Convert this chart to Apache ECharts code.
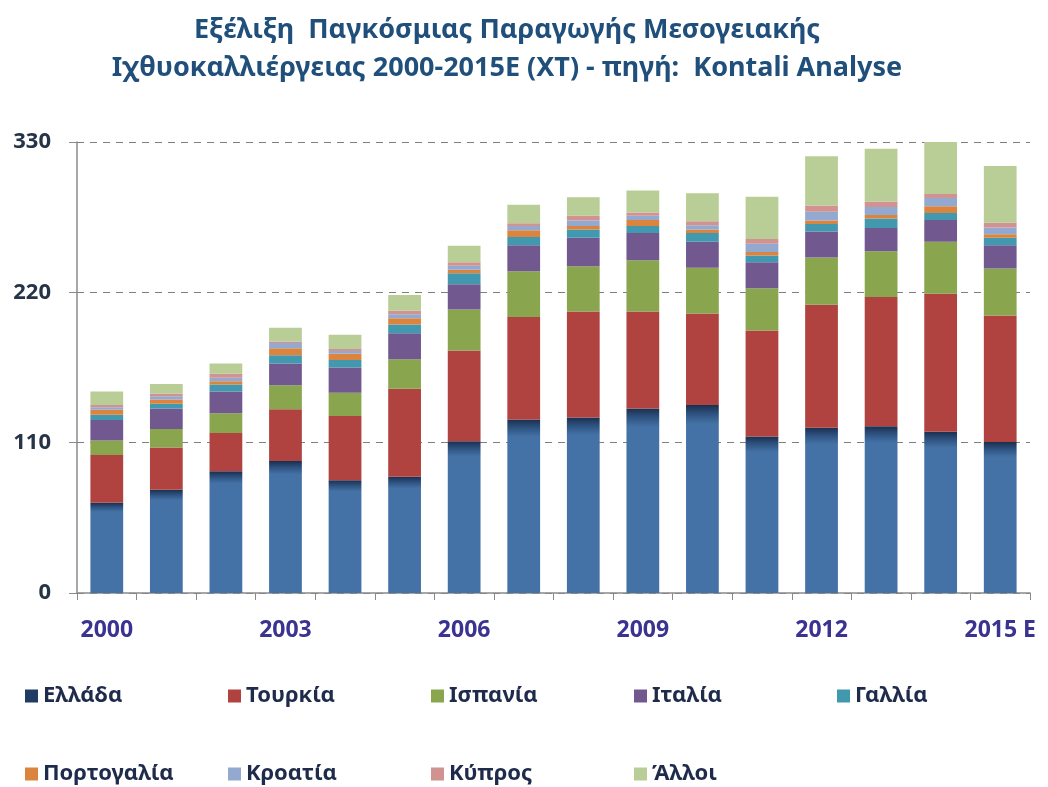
<!DOCTYPE html>
<html>
<head>
<meta charset="utf-8">
<script src="https://cdn.jsdelivr.net/npm/echarts@6/dist/echarts.min.js"></script>
<style>
  html, body { margin: 0; padding: 0; background: #fff; }
  #main { width: 1048px; height: 787px; }
</style>
</head>
<body>
<div id="main"></div>
<script>
// έτη
let years = ['2000', '2001', '2002', '2003', '2004', '2005', '2006', '2007',
  '2008', '2009', '2010', '2011', '2012', '2013', '2014', '2015 E'];
let yTicks = [0, 110, 220, 330];

// χιλ. τόνοι ανά χώρα (εκτίμηση από το γράφημα)
let ellada     = [66, 75.5, 89, 96.5, 82.5, 85, 111, 127, 128.5, 135, 137.5, 114.5, 121, 122, 118, 110.5];
let tourkia    = [35, 31, 28, 38, 47, 64.5, 66.5, 75, 77.5, 71, 67, 77.5, 90, 94.5, 101, 92.5];
let ispania    = [10.5, 13.5, 14.5, 17.5, 17, 21.5, 30, 33.5, 33, 37.5, 33.5, 31, 34.5, 33.5, 38, 34.5];
let italia     = [15, 15, 16, 16, 18.5, 19, 18.5, 19, 21, 20, 19, 19, 19, 17, 16, 17];
let gallia     = [4, 3.5, 5, 6, 5.5, 6.5, 8, 6, 6, 5, 6.5, 5, 5.5, 7, 5, 5.5];
let portogalia = [3.5, 3, 2.5, 5, 4.5, 4.5, 2.5, 5, 2.5, 4.5, 2.5, 2.5, 2.5, 2.5, 5, 2.5];
let kroatia    = [2, 2.5, 2.5, 4, 2, 3, 3, 3, 4, 3, 3, 6, 6.5, 6, 6, 5];
let kypros     = [1.5, 2, 3, 1, 1.5, 2.5, 2.5, 2, 3.5, 2.5, 3, 3.5, 4.5, 4, 3, 3.5];
let alloi      = [10, 7, 7.5, 10, 10.5, 11.5, 12, 13.5, 13.5, 16, 20.5, 31, 36, 38.5, 38, 41.5];

let names  = ['Ελλάδα', 'Τουρκία', 'Ισπανία', 'Ιταλία', 'Γαλλία', 'Πορτογαλία', 'Κροατία', 'Κύπρος', 'Άλλοι'];
let values = [ellada, tourkia, ispania, italia, gallia, portogalia, kroatia, kypros, alloi];
let colors = ['#4472a6', '#b0423f', '#89a54e', '#71588f', '#4198af', '#db843d', '#93a9cf', '#d19392', '#b9cd96'];
let legendColors = ['#1f3b63', '#b0423f', '#89a54e', '#71588f', '#4198af', '#db843d', '#93a9cf', '#d19392', '#b9cd96'];

let font = '"Noto Sans", "DejaVu Sans", sans-serif';

let series = names.map(function (n, i) {
  let c = colors[i];
  if (i === 0) {
    // σκούρα ζώνη στην κορυφή της μπλε στήλης
    c = new echarts.graphic.LinearGradient(0, 0, 0, 1, [
      { offset: 0, color: '#1b2f4f' },
      { offset: 0.05, color: '#2f5482' },
      { offset: 0.1, color: '#4472a6' },
      { offset: 1, color: '#4472a6' }
    ]);
  }
  return {
    name: n,
    type: 'bar',
    stack: 'total',
    barWidth: '55%',
    data: values[i],
    itemStyle: { color: c }
  };
});

// δύο γραμμές υπομνήματος, μία θέση ανά στοιχείο
let legends = names.map(function (n, i) {
  let col = i < 5 ? i : i - 5;
  let row = i < 5 ? 0 : 1;
  return {
    data: [{ name: n, itemStyle: { color: legendColors[i] } }],
    left: 20 + col * 203,
    top: row === 0 ? 680 : 758,
    icon: 'rect',
    itemWidth: 13,
    itemHeight: 13,
    itemGap: 6,
    selectedMode: false,
    textStyle: { fontFamily: font, fontSize: 22, fontWeight: 'bold', color: '#1e2b4a' }
  };
});

let option = {
  animation: false,
  backgroundColor: '#fff',
  title: {
    text: 'Εξέλιξη  Παγκόσμιας Παραγωγής Μεσογειακής\nΙχθυοκαλλιέργειας 2000-2015Ε (ΧΤ) - πηγή:  Kontali Analyse',
    left: 502,
    textAlign: 'center',
    top: 6,
    textStyle: {
      fontFamily: font,
      fontSize: 27,
      fontWeight: 'bold',
      color: '#1f4f7a',
      lineHeight: 38
    }
  },
  legend: legends,
  grid: { left: 77, right: 18, top: 142, bottom: 194 },
  xAxis: {
    type: 'category',
    data: years,
    axisLine: { lineStyle: { color: '#8a8a8a', width: 1.5 } },
    axisTick: { show: true, alignWithLabel: false, interval: 0, length: 7, lineStyle: { color: '#8a8a8a' } },
    axisLabel: {
      interval: 2,
      margin: 26,
      fontFamily: font,
      fontSize: 23,
      fontWeight: 'bold',
      color: '#3b3392'
    }
  },
  yAxis: {
    type: 'value',
    min: yTicks[0],
    max: yTicks[yTicks.length - 1],
    interval: 110,
    axisLine: { show: true, lineStyle: { color: '#8a8a8a', width: 1.5 } },
    axisTick: { show: true, length: 8, lineStyle: { color: '#8a8a8a' } },
    axisLabel: {
      margin: 26,
      fontFamily: font,
      fontSize: 22,
      fontWeight: 'bold',
      color: '#253447'
    },
    splitLine: { lineStyle: { color: '#7f7f7f', type: [7, 6], width: 1.2 } }
  },
  series: series
};

let chart = echarts.init(document.getElementById('main'));
chart.setOption(option);
</script>
</body>
</html>
